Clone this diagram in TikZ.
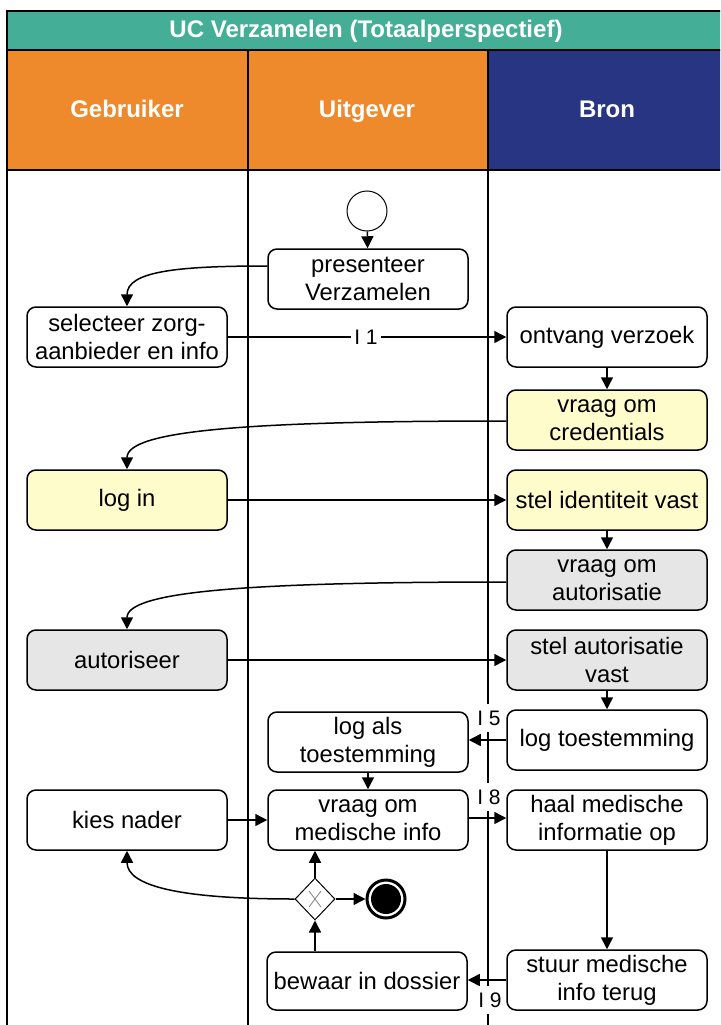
\documentclass[tikz,border=0pt]{standalone}
\usepackage{fontspec}
\setmainfont{Liberation Sans}
\usetikzlibrary{arrows.meta,shapes.geometric}

\definecolor{titleteal}{HTML}{45AE97}
\definecolor{laneorange}{HTML}{EE8A2B}
\definecolor{lanenavy}{HTML}{283583}
\definecolor{taskyellow}{HTML}{FFFCCC}
\definecolor{taskgrey}{HTML}{E6E6E6}

\tikzset{
  task/.style={draw=black, line width=1.5pt, rounded corners=9pt, fill=white,
    minimum width=200pt, minimum height=60pt, align=center, inner sep=2pt,
    font=\fontsize{23.8}{28}\selectfont},
  ytask/.style={task, fill=taskyellow},
  gtask/.style={task, fill=taskgrey},
  flow/.style={line width=1.5pt, -{Triangle[length=12pt,width=12pt]}},
  msglabel/.style={fill=white, inner sep=3pt, minimum height=28pt,
    font=\fontsize{21}{24}\selectfont},
  laneline/.style={line width=1.4pt, black},
  lanehead/.style={text=white, text height=17pt, text depth=5pt,
    font=\fontsize{24}{26}\selectfont\bfseries},
}

\begin{document}
\begin{tikzpicture}[x=1pt, y=-1pt]
  \useasboundingbox (0,0) rectangle (720,1025);
  \clip (0,0) rectangle (720,1025);

  % pool header and lane headers
  \fill[titleteal] (7,11) rectangle (740,50);
  \fill[laneorange] (7,50) rectangle (488,170);
  \fill[lanenavy] (488,50) rectangle (740,170);
  \draw[laneline] (7,1040) -- (7,11) -- (740,11);
  \draw[laneline] (7,50) -- (740,50);
  \draw[laneline] (7,170) -- (740,170);
  \draw[laneline] (248,50) -- (248,1040);
  \draw[laneline] (488,50) -- (488,1040);

  \node[lanehead] (pooltitle) at (366,32) {UC Verzamelen (Totaalperspectief)};
  \node[lanehead] (hgeb) at (127,111) {Gebruiker};
  \node[lanehead] (huit) at (367,111) {Uitgever};
  \node[lanehead] (hbron) at (607,111) {Bron};

  % events and gateway
  \node[circle, draw, line width=1pt, fill=white, minimum size=40pt, inner sep=0pt] (st) at (367,211) {};
  \node[diamond, draw, line width=1pt, fill=white, minimum width=40pt, minimum height=42pt, inner sep=0pt] (gw) at (315,899) {};
  \draw[gray, line width=0.8pt] ([xshift=-6pt,yshift=-8pt]gw.center) -- ([xshift=6pt,yshift=8pt]gw.center);
  \draw[gray, line width=0.8pt] ([xshift=-6pt,yshift=8pt]gw.center) -- ([xshift=6pt,yshift=-8pt]gw.center);
  \node[circle, draw, line width=3pt, fill=white, minimum size=38pt, inner sep=0pt] (ee) at (386,899) {};
  \fill (ee.center) circle (15pt);

  % tasks
  \node[task] (pres) at (368,279) {presenteer\\Verzamelen};
  \node[task] (sel) at (127,337) {selecteer zorg-\\aanbieder en info};
  \node[task] (ont) at (607,337) {ontvang verzoek};
  \node[ytask] (cred) at (607,420) {vraag om\\credentials};
  \node[ytask] (login) at (127,500) {log in};
  \node[ytask] (ident) at (607,500) {stel identiteit vast};
  \node[gtask] (autq) at (607,580) {vraag om\\autorisatie};
  \node[gtask] (autr) at (127,660) {autoriseer};
  \node[gtask] (autv) at (607,660) {stel autorisatie\\vast};
  \node[task] (logt) at (607,740) {log toestemming};
  \node[task] (logals) at (368,742) {log als\\toestemming};
  \node[task] (kies) at (127,820) {kies nader};
  \node[task] (vmed) at (368,820) {vraag om\\medische info};
  \node[task] (haal) at (607,820) {haal medische\\informatie op};
  \node[task, minimum height=58pt] (bew) at (367,981) {bewaar in dossier};
  \node[task] (stuur) at (607,980) {stuur medische\\info terug};

  % sequence and message flows
  \draw[flow] (st) -- (pres);
  \draw[flow] ([yshift=13pt]pres.west) .. controls +(-90,0) and +(0,-35) .. (sel.north);
  \draw[flow] (sel) -- (ont);
  \draw[flow] (ont) -- (cred);
  \draw[flow] ([yshift=-1pt]cred.west) .. controls +(-257,0) and +(0,-39) .. (login.north);
  \draw[flow] (login) -- (ident);
  \draw[flow] (ident) -- (autq);
  \draw[flow] ([yshift=-2pt]autq.west) .. controls +(-257,0) and +(0,-38) .. (autr.north);
  \draw[flow] (autr) -- (autv);
  \draw[flow] (autv) -- (logt);
  \draw[flow] (logt.west) -- (logt.west -| logals.east);
  \draw[flow] (logals) -- (vmed);
  \draw[flow] (kies) -- (vmed);
  \draw[flow] ([yshift=2pt]vmed.east) -- ([yshift=2pt]haal.west);
  \draw[flow] (haal) -- (stuur);
  \draw[flow] (stuur.west) -- (stuur.west -| bew.east);
  \draw[flow] (bew.north -| gw.south) -- (gw.south);
  \draw[flow] (gw.north) -- (gw.north |- vmed.south);
  \draw[flow] (gw.east) -- (ee.west);
  \draw[flow] (gw.west) .. controls +(-116,0) and +(0,35) .. (kies.south);

  % message numbers
  \node[msglabel] (m1) at (366,337) {I 1};
  \node[msglabel] (m5) at (489,718) {I 5};
  \node[msglabel] (m8) at (489,797) {I 8};
  \node[msglabel] (m9) at (490,1000) {I 9};
\end{tikzpicture}
\end{document}
